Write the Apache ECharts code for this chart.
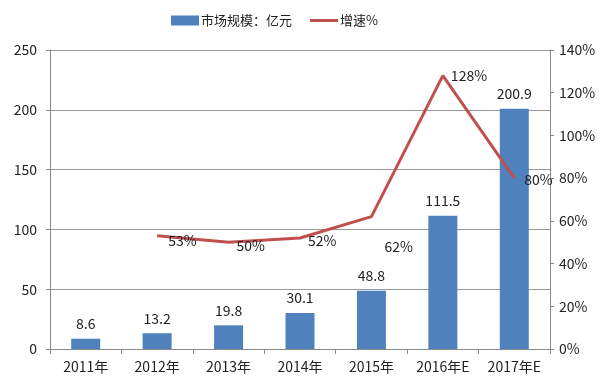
<!DOCTYPE html>
<html><head><meta charset="utf-8">
<script src="https://cdn.jsdelivr.net/npm/echarts@6/dist/echarts.min.js"></script>
<style>html,body{margin:0;padding:0;background:#fff}#c{width:600px;height:383px}</style>
</head><body><div id="c"></div>
<script>
const categories = ['2011年','2012年','2013年','2014年','2015年','2016年E','2017年E'];
const marketSize = [8.6, 13.2, 19.8, 30.1, 48.8, 111.5, 200.9];
const growth = [null, 53, 50, 52, 62, 128, 80];
const leftTicks = [0, 50, 100, 150, 200, 250];
const rightTicks = [0, 20, 40, 60, 80, 100, 120, 140];

const labelOffsets = [[0,0],[3,5],[0,3],[0,3],[5,30],[0,0],[2,2]];
const font = '"Noto Sans CJK SC", "Liberation Sans", sans-serif';
const chart = echarts.init(document.getElementById('c'));
chart.setOption({
  animation: false,
  textStyle: {fontFamily: font},
  legend: {
    top: 9, left: 166, itemGap: 18, itemWidth: 28, itemHeight: 10,
    textStyle: {fontSize: 13, color: '#222', fontFamily: font, padding: [0,0,0,-3]},
    data: [{name:'市场规模：亿元', icon:'rect'}, {name:'增速%', icon:'path://M0,0 L28,0 L28,3 L0,3 Z', itemStyle: {color: '#C0504D'}}]
  },
  grid: {left: 50, right: 50, top: 50, bottom: 34},
  xAxis: {
    type: 'category', data: categories,
    axisLine: {lineStyle: {color: '#888'}},
    axisTick: {show: true, length: 5, lineStyle: {color: '#888'}},
    axisLabel: {color: '#222', fontSize: 14, margin: 11}
  },
  yAxis: [{
    type: 'value', min: leftTicks[0], max: leftTicks[leftTicks.length-1], interval: 50,
    axisLine: {show: true, lineStyle: {color: '#888'}},
    axisTick: {show: true, length: 4, lineStyle: {color: '#888'}},
    axisLabel: {color: '#222', fontSize: 14, margin: 13},
    splitLine: {lineStyle: {color: '#999'}}
  }, {
    type: 'value', min: rightTicks[0], max: rightTicks[rightTicks.length-1], interval: 20,
    axisLine: {show: true, lineStyle: {color: '#888'}},
    axisTick: {show: true, length: 4, lineStyle: {color: '#888'}},
    axisLabel: {color: '#222', fontSize: 14, margin: 9, formatter: '{value}%'},
    splitLine: {show: false}
  }],
  series: [{
    name: '市场规模：亿元', type: 'bar', data: marketSize, barWidth: 29,
    itemStyle: {color: '#4F81BD'},
    label: {show: true, position: 'top', distance: 8, color: '#222', fontSize: 14}
  }, {
    name: '增速%', type: 'line', yAxisIndex: 1, symbol: 'circle', showSymbol: true, symbolSize: 0.01,
    lineStyle: {color: '#C0504D', width: 3}, itemStyle: {color: '#C0504D'},
    data: growth.map((v, i) => ({value: v, label: {offset: labelOffsets[i]}})),
    label: {show: true, position: 'right', distance: 8, color: '#222', fontSize: 14, formatter: '{c}%'}
  }]
});
</script></body></html>
